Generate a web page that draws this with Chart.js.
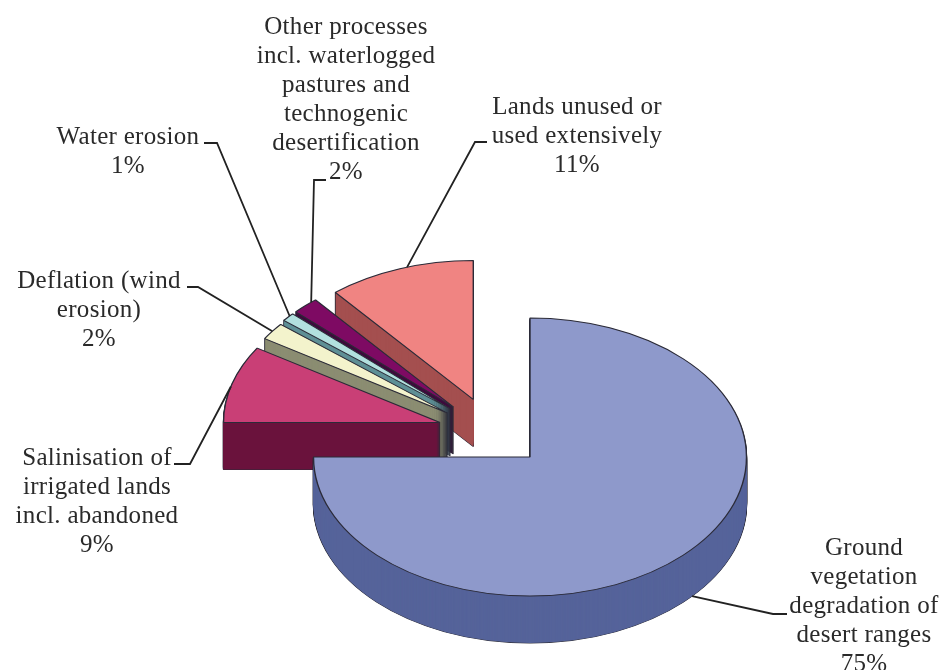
<!DOCTYPE html>
<html>
<head>
<meta charset="utf-8">
<script src="https://cdn.jsdelivr.net/npm/chart.js@4"></script>
<style>
    html, body { margin: 0; padding: 0; background: white; overflow: hidden; }
    canvas { display: block; }
</style>
</head>
<body>
<canvas id="chart" width="942" height="670"></canvas>
<script>
// values, clockwise from 12 o'clock
const categories = [
    "Ground vegetation degradation of desert ranges",
    "Salinisation of irrigated lands incl. abandoned",
    "Deflation (wind erosion)",
    "Water erosion",
    "Other processes incl. waterlogged pastures and technogenic desertification",
    "Lands unused or used extensively"
];
const shares = [75, 9, 2, 1, 2, 11];

// how each category name wraps in its label
const labelLines = [
    ["Ground", "vegetation", "degradation of", "desert ranges"],
    ["Salinisation of", "irrigated lands", "incl. abandoned"],
    ["Deflation (wind", "erosion)"],
    ["Water erosion"],
    ["Other processes", "incl. waterlogged", "pastures and", "technogenic", "desertification"],
    ["Lands unused or", "used extensively"]
];

const topColors = ["#8e99cb", "#c93f76", "#f3f3cc", "#b2e0df", "#7e0a63", "#f08482"];
const wallColors = ["#55639a", "#6b133d", "#8b8d72", "#5f9096", "#3f0a3d", "#a44f4f"];

// how far each slice is pulled out of the pie, in pixels
const explodeX = [0, -90, -82.5, -79.5, -76.5, -56.7];
const explodeY = [0, -34.5, -44, -48, -50, -57.5];

const squash = 0.642;
const depth = 47;
const outlineColor = "#2b2b38";

// label placement: centre x, first baseline
const labelX = [864, 97, 99, 128, 346, 577];
const labelY = [555, 465, 288, 144, 34, 114];
const lineHeight = 29;

// leader lines: where they touch the text, the elbow, and a small shift along the rim (degrees)
const leaderEndX = [787, 174, 187, 204, 326, 487];
const leaderElbowX = [773, 190, 198, 217, 314, 475];
const leaderElbowY = [614, 464, 287, 143, 180, 142];
const leaderNudge = [-3.5, -1.3, 0, 0.6, 2.1, 2];

function drawSlice(ctx, arc, i, drop, style) {
    const saved = arc.options;
    arc.options = Object.assign({}, saved, style);
    ctx.save();
    ctx.translate(arc.x + explodeX[i], arc.y + explodeY[i] + drop);
    ctx.scale(1, squash);
    ctx.translate(-arc.x, -arc.y);
    arc.draw(ctx);
    ctx.restore();
    arc.options = saved;
}

const pie3d = {
    id: "pie3d",
    beforeDatasetDraw(chart) {
        const ctx = chart.ctx;
        const arcs = chart.getDatasetMeta(0).data;
        // back slices first, the big one last
        for (let i = arcs.length - 1; i >= 0; i--) {
            for (let d = depth; d > 0; d--) {
                drawSlice(ctx, arcs[i], i, d, {
                    backgroundColor: wallColors[i], borderColor: outlineColor, borderWidth: 1.4
                });
            }
            for (let d = depth; d > 0; d--) {
                drawSlice(ctx, arcs[i], i, d, {
                    backgroundColor: wallColors[i], borderWidth: 0
                });
            }
            drawSlice(ctx, arcs[i], i, 0, {
                backgroundColor: topColors[i], borderColor: outlineColor, borderWidth: 1.4
            });
        }
        return false;
    },
    afterDraw(chart) {
        const ctx = chart.ctx;
        const arcs = chart.getDatasetMeta(0).data;
        ctx.save();
        ctx.strokeStyle = "#222222";
        ctx.lineWidth = 1.8;
        arcs.forEach(function(arc, i) {
            let angle = (arc.startAngle + arc.endAngle) / 2 + leaderNudge[i] * Math.PI / 180;
            let px = arc.x + explodeX[i] + arc.outerRadius * Math.cos(angle);
            let py = arc.y + explodeY[i] + arc.outerRadius * Math.sin(angle) * squash;
            if (Math.sin(angle) > 0) {
                py += depth;
            }
            ctx.beginPath();
            ctx.moveTo(leaderEndX[i], leaderElbowY[i]);
            ctx.lineTo(leaderElbowX[i], leaderElbowY[i]);
            ctx.lineTo(px, py);
            ctx.stroke();
        });

        ctx.fillStyle = "#2a2a2a";
        ctx.font = '25px "Liberation Serif"';
        ctx.letterSpacing = "0.3px";
        ctx.textAlign = "center";
        ctx.textBaseline = "alphabetic";
        labelLines.forEach(function(lines, i) {
            let rows = lines.concat([shares[i] + "%"]);
            rows.forEach(function(row, j) {
                ctx.fillText(row, labelX[i], labelY[i] + j * lineHeight);
            });
        });
        ctx.restore();
    }
};

new Chart(document.getElementById("chart"), {
    type: "pie",
    data: {
        labels: categories,
        datasets: [{
            data: shares,
            backgroundColor: topColors,
            radius: 216.5
        }]
    },
    options: {
        responsive: false,
        animation: false,
        // puts the centre of the pie at 530, 457
        layout: { padding: { left: 118, top: 244 } },
        plugins: { legend: { display: false }, tooltip: { enabled: false } }
    },
    plugins: [pie3d]
});
</script>
</body>
</html>
